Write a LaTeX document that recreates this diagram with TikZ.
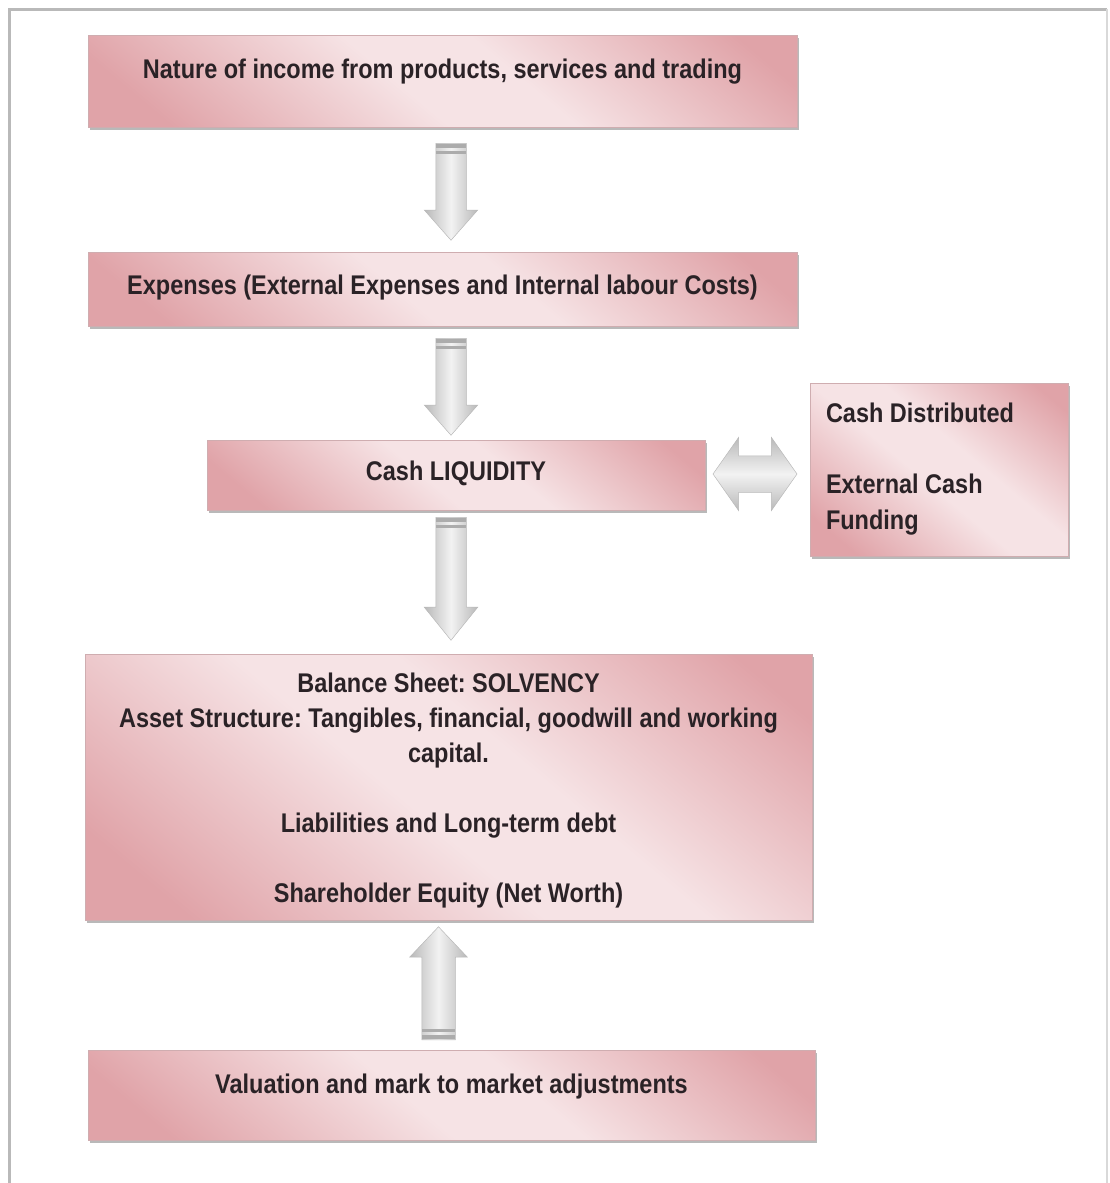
\documentclass[tikz,border=0pt]{standalone}
\usepackage{fontspec}
\setmainfont[FakeStretch=0.87]{Liberation Sans}
\usetikzlibrary{shapes.arrows,shadows,calc}
\definecolor{pinklt}{HTML}{F6E3E5}
\definecolor{pinkdk}{HTML}{E0A3A8}
\definecolor{txtc}{HTML}{2A2226}
\pgfdeclareverticalshading{pinkshade}{100bp}{color(0bp)=(pinkdk); color(22bp)=(pinkdk);
	color(46bp)=(pinklt); color(57bp)=(pinklt); color(80bp)=(pinkdk); color(100bp)=(pinkdk)}
\frenchspacing

\begin{document}
\begin{tikzpicture}[x=1pt,y=-1pt,
	pinkbox/.style={rectangle, draw=pinkdk!70!gray!80, line width=0.5pt,
		shading=pinkshade, shading angle=-40,
		drop shadow={shadow xshift=2pt, shadow yshift=-3pt, fill=black!55, opacity=.5},
		font=\fontsize{27}{35}\selectfont\bfseries, text=txtc, inner xsep=0pt, inner ysep=0pt},
	downarr/.style={single arrow, shape border rotate=270, anchor=tail, draw=gray!55, line width=0.5pt,
		left color=gray!55, right color=gray!55, middle color=gray!10,
		inner sep=15pt, single arrow head extend=11.5pt},
	uparr/.style={downarr, shape border rotate=90, inner sep=16.5pt, single arrow head extend=12pt},
	tailband/.style={fill=gray!65},
]
	\useasboundingbox (0,0) rectangle (1110,1183);
	% frame
	\draw[gray!55, line width=3pt] (9,1183) -- (9,9) -- (1107,9);
	\draw[gray!30, line width=2pt] (1107,9) -- (1107,1183);

	% boxes
	\node[pinkbox, minimum width=709, text height=43pt, text depth=49pt] (income) at (442.5,81)
		{Nature of income from products, services and trading};
	\node[pinkbox, minimum width=709, text height=42pt, text depth=32pt] (expenses) at (442.5,289)
		{Expenses (External Expenses and Internal labour Costs)};
	\node[pinkbox, minimum width=498, text height=40pt, text depth=30pt] (cash) at (456,475)
		{Cash LIQUIDITY};
	\node[pinkbox, minimum width=258, minimum height=173, text width=226, align=flush left,
		font=\fontsize{27}{36}\selectfont\bfseries] (funding) at (939,469.5)
		{Cash Distributed\\[35pt]External Cash\\Funding};
	\node[pinkbox, minimum width=727, minimum height=266, align=center] (solvency) at (448.5,787)
		{\rule{0pt}{27pt}Balance Sheet: SOLVENCY\\Asset Structure: Tangibles, financial, goodwill and working\\capital.\\[35pt]Liabilities and Long-term debt\\[35pt]Shareholder Equity (Net Worth)};
	\node[pinkbox, minimum width=727, text height=43pt, text depth=47pt] (valuation) at (451.5,1095)
		{Valuation and mark to market adjustments};

	% block arrows
	\node[downarr, minimum height=97, single arrow tip angle=83] (a1) at (451,143) {};
	\node[downarr, minimum height=97, single arrow tip angle=83] (a2) at (451,338) {};
	\node[downarr, minimum height=123, single arrow tip angle=78] (a3) at (451,517) {};
	\node[uparr, minimum height=113, single arrow tip angle=87] (a4) at (438.5,1040) {};
	\node[double arrow, draw=gray!55, line width=0.5pt, top color=gray!55, bottom color=gray!55, middle color=gray!10,
		inner xsep=0pt, inner ysep=18pt, minimum height=84,
		double arrow tip angle=110, double arrow head extend=18.5pt] (a5) at (755,474) {};

	% stripes at the tails
	\foreach \a in {a1,a2,a3} {
		\fill[tailband] ($(\a.tail)+(-15,1)$) rectangle ($(\a.tail)+(15,5)$);
		\fill[tailband] ($(\a.tail)+(-15,8)$) rectangle ($(\a.tail)+(15,11)$);
	}
	\fill[tailband] ($(a4.tail)+(-16.5,-1)$) rectangle ($(a4.tail)+(16.5,-5)$);
	\fill[tailband] ($(a4.tail)+(-16.5,-8)$) rectangle ($(a4.tail)+(16.5,-11)$);
\end{tikzpicture}
\end{document}
